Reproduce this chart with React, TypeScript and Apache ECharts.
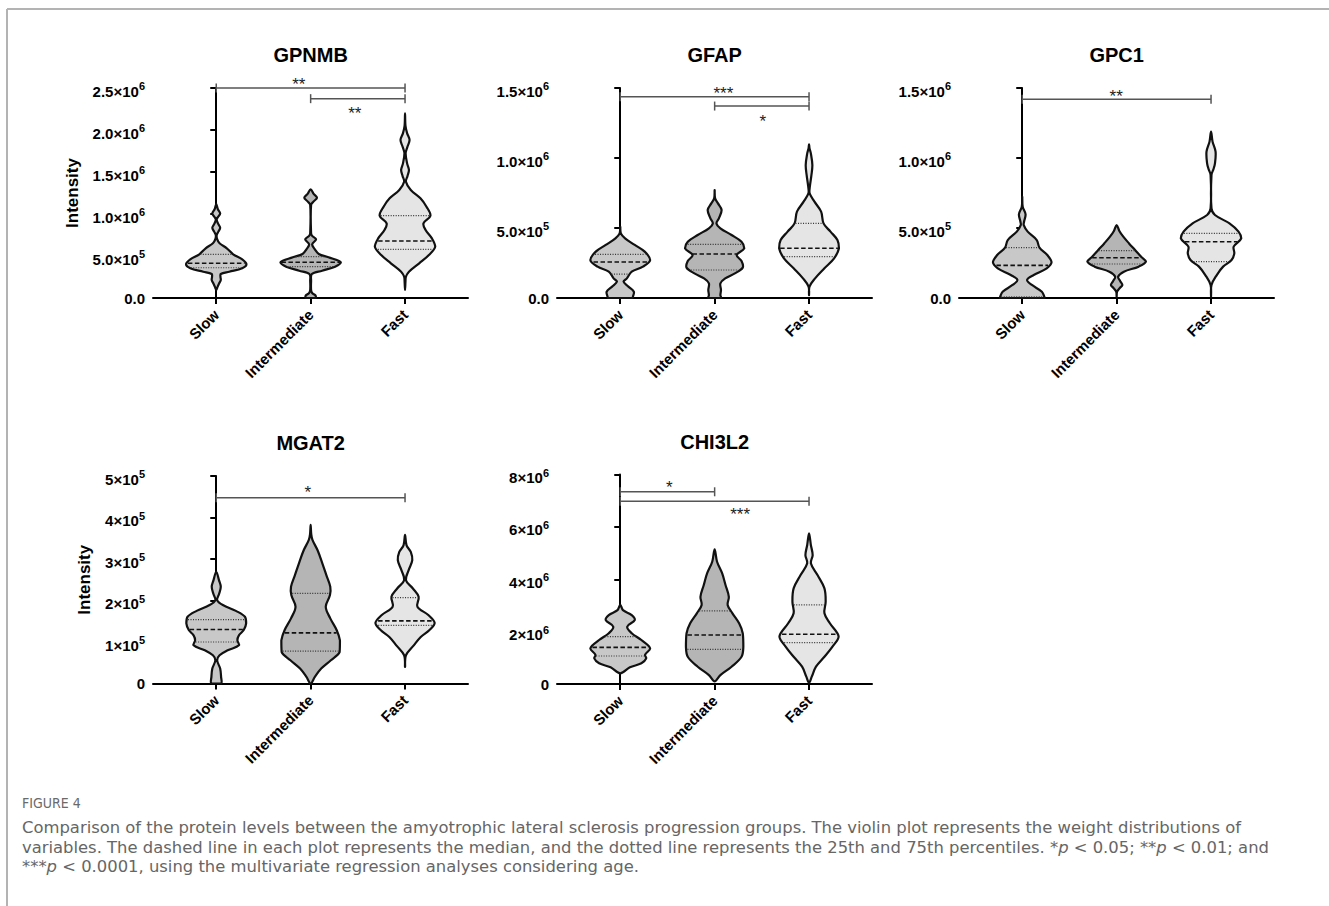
import { useEffect, useRef } from 'react';
import * as echarts from 'echarts';

type Pt = [number, number]; // [value, relative half-width 0..1]
type Bracket = [number, number, number, string, number, number]; // from, to, level, stars, label x, label level

const groups = ['Slow', 'Intermediate', 'Fast'];
const fills = ['#c8c8c8', '#b5b5b5', '#e5e5e5'];

// ---- GPNMB (×10^6) ----
const gpnmbTicks = ['0.0', '5.0×10^5', '1.0×10^6', '1.5×10^6', '2.0×10^6', '2.5×10^6'];
const gpnmbSlow: Pt[] = [[0.095, 0], [0.13, 0.04], [0.17, 0.09], [0.215, 0.15], [0.25, 0.14], [0.285, 0.15], [0.313, 0.43], [0.354, 0.86], [0.401, 1.0], [0.46, 0.86], [0.52, 0.56], [0.592, 0.35], [0.651, 0.11], [0.7, 0.03], [0.75, 0.015], [0.79, 0.07], [0.837, 0.13], [0.885, 0.06], [0.937, 0.015], [0.97, 0.07], [1.008, 0.13], [1.06, 0.05], [1.119, 0]];
const gpnmbIntermediate: Pt[] = [[0, 0.16], [0.03, 0.16], [0.06, 0.05], [0.095, 0.015], [0.2, 0.015], [0.286, 0.04], [0.325, 0.38], [0.373, 0.81], [0.425, 1.0], [0.484, 0.59], [0.524, 0.27], [0.58, 0.14], [0.639, 0.05], [0.698, 0.18], [0.74, 0.05], [0.77, 0.015], [1.107, 0.015], [1.15, 0.1], [1.194, 0.21], [1.24, 0.1], [1.294, 0]];
const gpnmbFast: Pt[] = [[0.095, 0], [0.2, 0.015], [0.254, 0.03], [0.313, 0.13], [0.413, 0.47], [0.512, 0.79], [0.611, 1.0], [0.71, 0.89], [0.81, 0.68], [0.889, 0.61], [0.98, 0.84], [1.087, 0.71], [1.187, 0.51], [1.286, 0.19], [1.385, 0.03], [1.45, 0.08], [1.524, 0.13], [1.6, 0.07], [1.722, 0.02], [1.8, 0.08], [1.881, 0.15], [1.96, 0.07], [2.05, 0.015], [2.199, 0]];
const gpnmbMedian = [0.413, 0.425, 0.679];
const gpnmbQ1 = [0.36, 0.373, 0.58];
const gpnmbQ3 = [0.52, 0.492, 0.98];
const gpnmbBrackets: Bracket[] = [[0, 2, 2.5, '**', 0.875, 2.595], [1, 2, 2.373, '**', 1.468, 2.246]];

// ---- GFAP (×10^6) ----
const gfapTicks = ['0.0', '5.0×10^5', '1.0×10^6', '1.5×10^6'];
const gfapSlow: Pt[] = [[0, 0.4], [0.009, 0.42], [0.045, 0.45], [0.081, 0.27], [0.117, 0.11], [0.14, 0.22], [0.188, 0.38], [0.224, 0.75], [0.271, 0.99], [0.331, 0.81], [0.379, 0.48], [0.426, 0.16], [0.462, 0.02], [0.509, 0]];
const gfapIntermediate: Pt[] = [[0, 0.21], [0.02, 0.19], [0.057, 0.21], [0.105, 0.19], [0.14, 0.35], [0.176, 0.67], [0.217, 0.93], [0.264, 0.89], [0.307, 0.73], [0.355, 0.98], [0.402, 0.89], [0.45, 0.56], [0.498, 0.19], [0.533, 0.06], [0.569, 0.14], [0.629, 0.23], [0.676, 0.11], [0.712, 0.015], [0.771, 0]];
const gfapFast: Pt[] = [[0.02, 0], [0.081, 0.015], [0.14, 0.2], [0.212, 0.51], [0.283, 0.83], [0.355, 0.99], [0.414, 0.94], [0.474, 0.71], [0.533, 0.48], [0.617, 0.4], [0.688, 0.18], [0.748, 0.02], [0.8, 0.03], [0.879, 0.08], [0.95, 0.11], [1.033, 0.06], [1.07, 0.015], [1.098, 0]];
const gfapMedian = [0.257, 0.314, 0.355];
const gfapQ1 = [0.171, 0.2, 0.295];
const gfapQ3 = [0.312, 0.383, 0.533];
const gfapBrackets: Bracket[] = [[0, 2, 1.438, '***', 1.093, 1.49], [1, 2, 1.371, '*', 1.51, 1.295]];

// ---- GPC1 (×10^6) ----
const gpc1Ticks = ['0.0', '5.0×10^5', '1.0×10^6', '1.5×10^6'];
const gpc1Slow: Pt[] = [[0, 0.73], [0.009, 0.73], [0.045, 0.65], [0.093, 0.32], [0.129, 0.16], [0.164, 0.38], [0.212, 0.81], [0.255, 0.97], [0.307, 0.83], [0.36, 0.57], [0.414, 0.48], [0.474, 0.18], [0.52, 0.05], [0.545, 0.06], [0.598, 0.11], [0.652, 0.015], [0.724, 0]];
const gpc1Intermediate: Pt[] = [[0.01, 0], [0.045, 0.015], [0.075, 0.12], [0.093, 0.19], [0.12, 0.12], [0.152, 0.05], [0.188, 0.24], [0.224, 0.73], [0.26, 0.97], [0.295, 0.81], [0.343, 0.61], [0.39, 0.41], [0.438, 0.22], [0.479, 0.09], [0.521, 0]];
const gpc1Fast: Pt[] = [[0.01, 0], [0.093, 0.015], [0.164, 0.19], [0.224, 0.4], [0.271, 0.68], [0.319, 0.77], [0.367, 0.75], [0.426, 1.0], [0.474, 0.91], [0.533, 0.61], [0.593, 0.13], [0.64, 0.015], [0.879, 0.015], [0.92, 0.08], [0.962, 0.13], [1.045, 0.15], [1.117, 0.05], [1.188, 0]];
const gpc1Median = [0.233, 0.288, 0.402];
const gpc1Q1 = [0.008, 0.243, 0.26];
const gpc1Q3 = [0.36, 0.338, 0.462];
const gpc1Brackets: Bracket[] = [[0, 2, 1.419, '**', 0.995, 1.474]];

// ---- MGAT2 (×10^5) ----
const mgat2Ticks = ['0', '1×10^5', '2×10^5', '3×10^5', '4×10^5', '5×10^5'];
const mgat2Slow: Pt[] = [[0, 0.16], [0.16, 0.16], [0.36, 0.13], [0.56, 0.03], [0.68, 0.11], [0.8, 0.38], [0.92, 0.75], [1.04, 0.7], [1.16, 0.75], [1.29, 0.91], [1.45, 0.99], [1.61, 0.95], [1.75, 0.65], [1.89, 0.22], [2.01, 0.03], [2.15, 0.09], [2.33, 0.15], [2.49, 0.09], [2.69, 0]];
const mgat2Intermediate: Pt[] = [[0, 0], [0.16, 0.14], [0.36, 0.35], [0.56, 0.67], [0.76, 0.96], [1.04, 0.97], [1.29, 0.86], [1.57, 0.65], [1.85, 0.5], [2.13, 0.64], [2.33, 0.65], [2.61, 0.52], [2.89, 0.39], [3.21, 0.23], [3.46, 0.06], [3.6, 0.02], [3.82, 0]];
const mgat2Fast: Pt[] = [[0.4, 0], [0.68, 0.03], [0.92, 0.29], [1.12, 0.52], [1.29, 0.81], [1.46, 0.98], [1.65, 0.77], [1.85, 0.41], [2.09, 0.45], [2.29, 0.26], [2.49, 0.03], [2.73, 0.12], [2.97, 0.24], [3.17, 0.19], [3.33, 0.05], [3.58, 0]];
const mgat2Median = [1.3, 1.22, 1.51];
const mgat2Q1 = [1.0, 0.78, 1.4];
const mgat2Q3 = [1.54, 2.17, 2.07];
const mgat2Brackets: Bracket[] = [[0, 2, 4.475, '*', 0.97, 4.7]];

// ---- CHI3L2 (×10^6) ----
const chi3l2Ticks = ['0', '2×10^6', '4×10^6', '6×10^6', '8×10^6'];
const chi3l2Slow: Pt[] = [[0.41, 0], [0.64, 0.32], [0.79, 0.7], [0.98, 0.86], [1.11, 0.82], [1.36, 0.99], [1.68, 0.7], [1.94, 0.38], [2.19, 0.23], [2.44, 0.48], [2.63, 0.38], [2.82, 0.09], [3.02, 0]];
const chi3l2Intermediate: Pt[] = [[0.1, 0], [0.34, 0.19], [0.66, 0.56], [1.04, 0.89], [1.42, 0.95], [1.94, 0.93], [2.32, 0.81], [2.7, 0.59], [3.02, 0.43], [3.33, 0.47], [3.78, 0.36], [4.22, 0.25], [4.67, 0.08], [5.14, 0]];
const chi3l2Fast: Pt[] = [[0.05, 0], [0.28, 0.09], [0.66, 0.23], [1.04, 0.51], [1.42, 0.77], [1.81, 0.98], [2.32, 0.69], [2.7, 0.51], [3.14, 0.55], [3.65, 0.51], [4.16, 0.28], [4.61, 0.06], [4.92, 0.12], [5.31, 0.06], [5.75, 0]];
const chi3l2Median = [1.4, 1.87, 1.9];
const chi3l2Q1 = [1.07, 1.32, 1.58];
const chi3l2Q3 = [1.81, 2.79, 3.02];
const chi3l2Brackets: Bracket[] = [[0, 1, 7.34, '*', 0.52, 7.68], [0, 2, 6.98, '***', 1.27, 6.64]];

const captionTitle = 'FIGURE 4';
const captionLines = [
  'Comparison of the protein levels between the amyotrophic lateral sclerosis progression groups. The violin plot represents the weight distributions of',
  'variables. The dashed line in each plot represents the median, and the dotted line represents the 25th and 75th percentiles. *{i|p} < 0.05; **{i|p} < 0.01; and',
  '***{i|p} < 0.0001, using the multivariate regression analyses considering age.',
];

interface Panel {
  title: string;
  left: number;
  top: number;
  height: number;
  max: number;
  interval: number;
  ticks: string[];
  shapes: Pt[][];
  median: number[];
  q1: number[];
  q3: number[];
  brackets: Bracket[];
  yName?: string;
  nameGap?: number;
}

const panels: Panel[] = [
  { title: 'GPNMB', left: 153, top: 88, height: 210, max: 2.5, interval: 0.5, ticks: gpnmbTicks, shapes: [gpnmbSlow, gpnmbIntermediate, gpnmbFast], median: gpnmbMedian, q1: gpnmbQ1, q3: gpnmbQ3, brackets: gpnmbBrackets, yName: 'Intensity', nameGap: 72 },
  { title: 'GFAP', left: 557, top: 88, height: 210, max: 1.5, interval: 0.5, ticks: gfapTicks, shapes: [gfapSlow, gfapIntermediate, gfapFast], median: gfapMedian, q1: gfapQ1, q3: gfapQ3, brackets: gfapBrackets },
  { title: 'GPC1', left: 959, top: 88, height: 210, max: 1.5, interval: 0.5, ticks: gpc1Ticks, shapes: [gpc1Slow, gpc1Intermediate, gpc1Fast], median: gpc1Median, q1: gpc1Q1, q3: gpc1Q3, brackets: gpc1Brackets },
  { title: 'MGAT2', left: 153, top: 476, height: 207.5, max: 5, interval: 1, ticks: mgat2Ticks, shapes: [mgat2Slow, mgat2Intermediate, mgat2Fast], median: mgat2Median, q1: mgat2Q1, q3: mgat2Q3, brackets: mgat2Brackets, yName: 'Intensity', nameGap: 60 },
  { title: 'CHI3L2', left: 557, top: 474.5, height: 209.5, max: 8, interval: 2, ticks: chi3l2Ticks, shapes: [chi3l2Slow, chi3l2Intermediate, chi3l2Fast], median: chi3l2Median, q1: chi3l2Q1, q3: chi3l2Q3, brackets: chi3l2Brackets },
];

const FONT = '"Liberation Sans", Arial, Helvetica, sans-serif';
const CAP_FONT = '"DejaVu Sans", "Open Sans", sans-serif';
const GRID_W = 315;
const X_MIN = -0.67;
const X_MAX = 2.667;
const HALF = 0.32; // half-width (category units) of the widest part of a violin

function widthAt(shape: Pt[], v: number): number {
  for (let k = 0; k < shape.length - 1; k++) {
    const [v0, d0] = shape[k];
    const [v1, d1] = shape[k + 1];
    if (v >= v0 && v <= v1) {
      const t = v1 === v0 ? 0 : (v - v0) / (v1 - v0);
      return d0 + (d1 - d0) * t;
    }
  }
  return shape[0][1];
}

function bounds(points: number[][]): number[][] {
  const min = [Infinity, Infinity];
  const max = [-Infinity, -Infinity];
  points.forEach(([x, y]) => {
    min[0] = Math.min(min[0], x);
    min[1] = Math.min(min[1], y);
    max[0] = Math.max(max[0], x);
    max[1] = Math.max(max[1], y);
  });
  return [min, max];
}

function tickFormatter(p: Panel) {
  return (v: number) => {
    const t = p.ticks[Math.round(v / p.interval)];
    if (t === undefined) return '';
    const [m, e] = t.split('^');
    return e ? `{m|${m}}{s|${e}}` : `{z|${m}}`;
  };
}

function buildOption(): any {
  const grid: any[] = [];
  const xAxis: any[] = [];
  const yAxis: any[] = [];
  const series: any[] = [];
  const graphic: any[] = [];

  panels.forEach((p, pi) => {
    grid.push({ left: p.left, top: p.top, width: GRID_W, height: p.height, containLabel: false });
    xAxis.push({
      type: 'value',
      gridIndex: pi,
      min: X_MIN,
      max: X_MAX,
      splitLine: { show: false },
      axisLine: { show: true, onZero: false, lineStyle: { color: '#000', width: 2 } },
      axisTick: { show: true, customValues: [0, 1, 2], length: 6, lineStyle: { color: '#000', width: 2 } },
      axisLabel: {
        customValues: [0, 1, 2],
        formatter: (v: number) => groups[Math.round(v)] ?? '',
        rotate: 45,
        margin: 14,
        color: '#000',
        fontFamily: FONT,
        fontWeight: 'bold',
        fontSize: 15,
      },
    });
    yAxis.push({
      type: 'value',
      gridIndex: pi,
      min: 0,
      max: p.max,
      interval: p.interval,
      name: p.yName,
      nameLocation: 'middle',
      nameGap: p.nameGap,
      nameTextStyle: { fontFamily: FONT, fontWeight: 'bold', fontSize: 17, color: '#000' },
      splitLine: { show: false },
      axisLine: { show: true, lineStyle: { color: '#000', width: 2 } },
      axisTick: { show: true, length: 6, lineStyle: { color: '#000', width: 2 } },
      axisLabel: {
        formatter: tickFormatter(p),
        margin: 8,
        color: '#000',
        rich: {
          m: { fontFamily: FONT, fontWeight: 'bold', fontSize: 15, lineHeight: 17, padding: [6, 0, 0, 0], color: '#000' },
          s: { fontFamily: FONT, fontWeight: 'bold', fontSize: 11, lineHeight: 12, padding: [0, 0, 4, 0], color: '#000' },
          z: { fontFamily: FONT, fontWeight: 'bold', fontSize: 15, lineHeight: 17, color: '#000' },
        },
      },
    });

    // violins with median and quartile lines
    series.push({
      type: 'custom',
      xAxisIndex: pi,
      yAxisIndex: pi,
      clip: false,
      data: p.median.map((m, i) => [i, m]),
      renderItem: (params: any, api: any) => {
        const i = params.dataIndex;
        const shape = p.shapes[i];
        const leftSide = shape.map(([v, d]) => api.coord([i - d * HALF, v]));
        const rightSide: number[][] = [];
        for (let k = shape.length - 1; k >= 0; k--) {
          const [v, d] = shape[k];
          if (d === 0) continue;
          rightSide.push(api.coord([i + d * HALF, v]));
        }
        const points = leftSide.concat(rightSide);
        const hline = (v: number, style: any) => {
          const w = widthAt(shape, v) * HALF;
          const a = api.coord([i - w, v]);
          const b = api.coord([i + w, v]);
          return { type: 'line', shape: { x1: a[0] + 1, y1: a[1], x2: b[0] - 1, y2: b[1] }, style, z2: 2 };
        };
        return {
          type: 'group',
          children: [
            {
              type: 'polygon',
              shape: { points, smooth: 0.35, smoothConstraint: bounds(points) },
              style: { fill: fills[i], stroke: '#111', lineWidth: 2.2, lineJoin: 'round' },
              z2: 1,
            },
            hline(p.q1[i], { stroke: '#333', lineWidth: 1.2, lineDash: [1, 1.5] }),
            hline(p.q3[i], { stroke: '#333', lineWidth: 1.2, lineDash: [1, 1.5] }),
            hline(p.median[i], { stroke: '#111', lineWidth: 1.6, lineDash: [4.5, 2.5] }),
          ],
        };
      },
    });

    // significance brackets
    series.push({
      type: 'custom',
      xAxisIndex: pi,
      yAxisIndex: pi,
      clip: false,
      data: p.brackets.map((b) => [b[0], b[2]]),
      renderItem: (params: any, api: any) => {
        const [from, to, level, stars, lx, ly] = p.brackets[params.dataIndex];
        const a = api.coord([from, level]);
        const b = api.coord([to, level]);
        const t = api.coord([lx, ly]);
        const s = { stroke: '#555', lineWidth: 1.5 };
        return {
          type: 'group',
          children: [
            { type: 'line', shape: { x1: a[0], y1: a[1], x2: b[0], y2: b[1] }, style: s },
            { type: 'line', shape: { x1: a[0], y1: a[1] - 4.5, x2: a[0], y2: a[1] + 4.5 }, style: s },
            { type: 'line', shape: { x1: b[0], y1: b[1] - 4.5, x2: b[0], y2: b[1] + 4.5 }, style: s },
            {
              type: 'text',
              x: t[0],
              y: t[1] + 4.5,
              style: { text: stars, fill: '#222', font: `17px ${FONT}`, align: 'center', verticalAlign: 'middle' },
            },
          ],
        };
      },
    });

    const cx = p.left + (GRID_W * (1 - X_MIN)) / (X_MAX - X_MIN);
    graphic.push({
      type: 'text',
      x: cx,
      y: p.top - 33,
      style: { text: p.title, fill: '#000', font: `bold 20px ${FONT}`, align: 'center', verticalAlign: 'middle' },
    });
  });

  // figure frame
  graphic.push({ type: 'line', shape: { x1: 7, y1: 9, x2: 1329, y2: 9 }, style: { stroke: '#b3b3b3', lineWidth: 2 } });
  graphic.push({ type: 'line', shape: { x1: 7, y1: 9, x2: 7, y2: 906 }, style: { stroke: '#b3b3b3', lineWidth: 2 } });

  // caption
  graphic.push({
    type: 'text',
    x: 22,
    y: 803,
    style: { text: captionTitle, fill: '#6a6a6a', font: `14px "DejaVu Sans Condensed", ${CAP_FONT}`, verticalAlign: 'middle' },
  });
  captionLines.forEach((line, k) => {
    graphic.push({
      type: 'text',
      x: 22,
      y: 827.5 + k * 19.5,
      style: {
        text: line,
        fill: '#666',
        fontFamily: CAP_FONT,
        fontWeight: 'normal',
        fontSize: 16.4,
        lineHeight: 18,
        verticalAlign: 'middle',
        rich: { i: { fontStyle: 'italic', fontFamily: CAP_FONT, fontWeight: 'normal', fontSize: 16.4, lineHeight: 18, fill: '#666' } },
      },
    });
  });

  return { animation: false, backgroundColor: '#fff', grid, xAxis, yAxis, series, graphic };
}

export default function App() {
  const ref = useRef<HTMLDivElement>(null);
  useEffect(() => {
    document.body.style.margin = '0';
    if (!ref.current) return;
    const chart = echarts.init(ref.current, undefined, { renderer: 'svg' });
    chart.setOption(buildOption());
    return () => chart.dispose();
  }, []);
  return <div ref={ref} style={{ width: 1329, height: 906 }} />;
}
